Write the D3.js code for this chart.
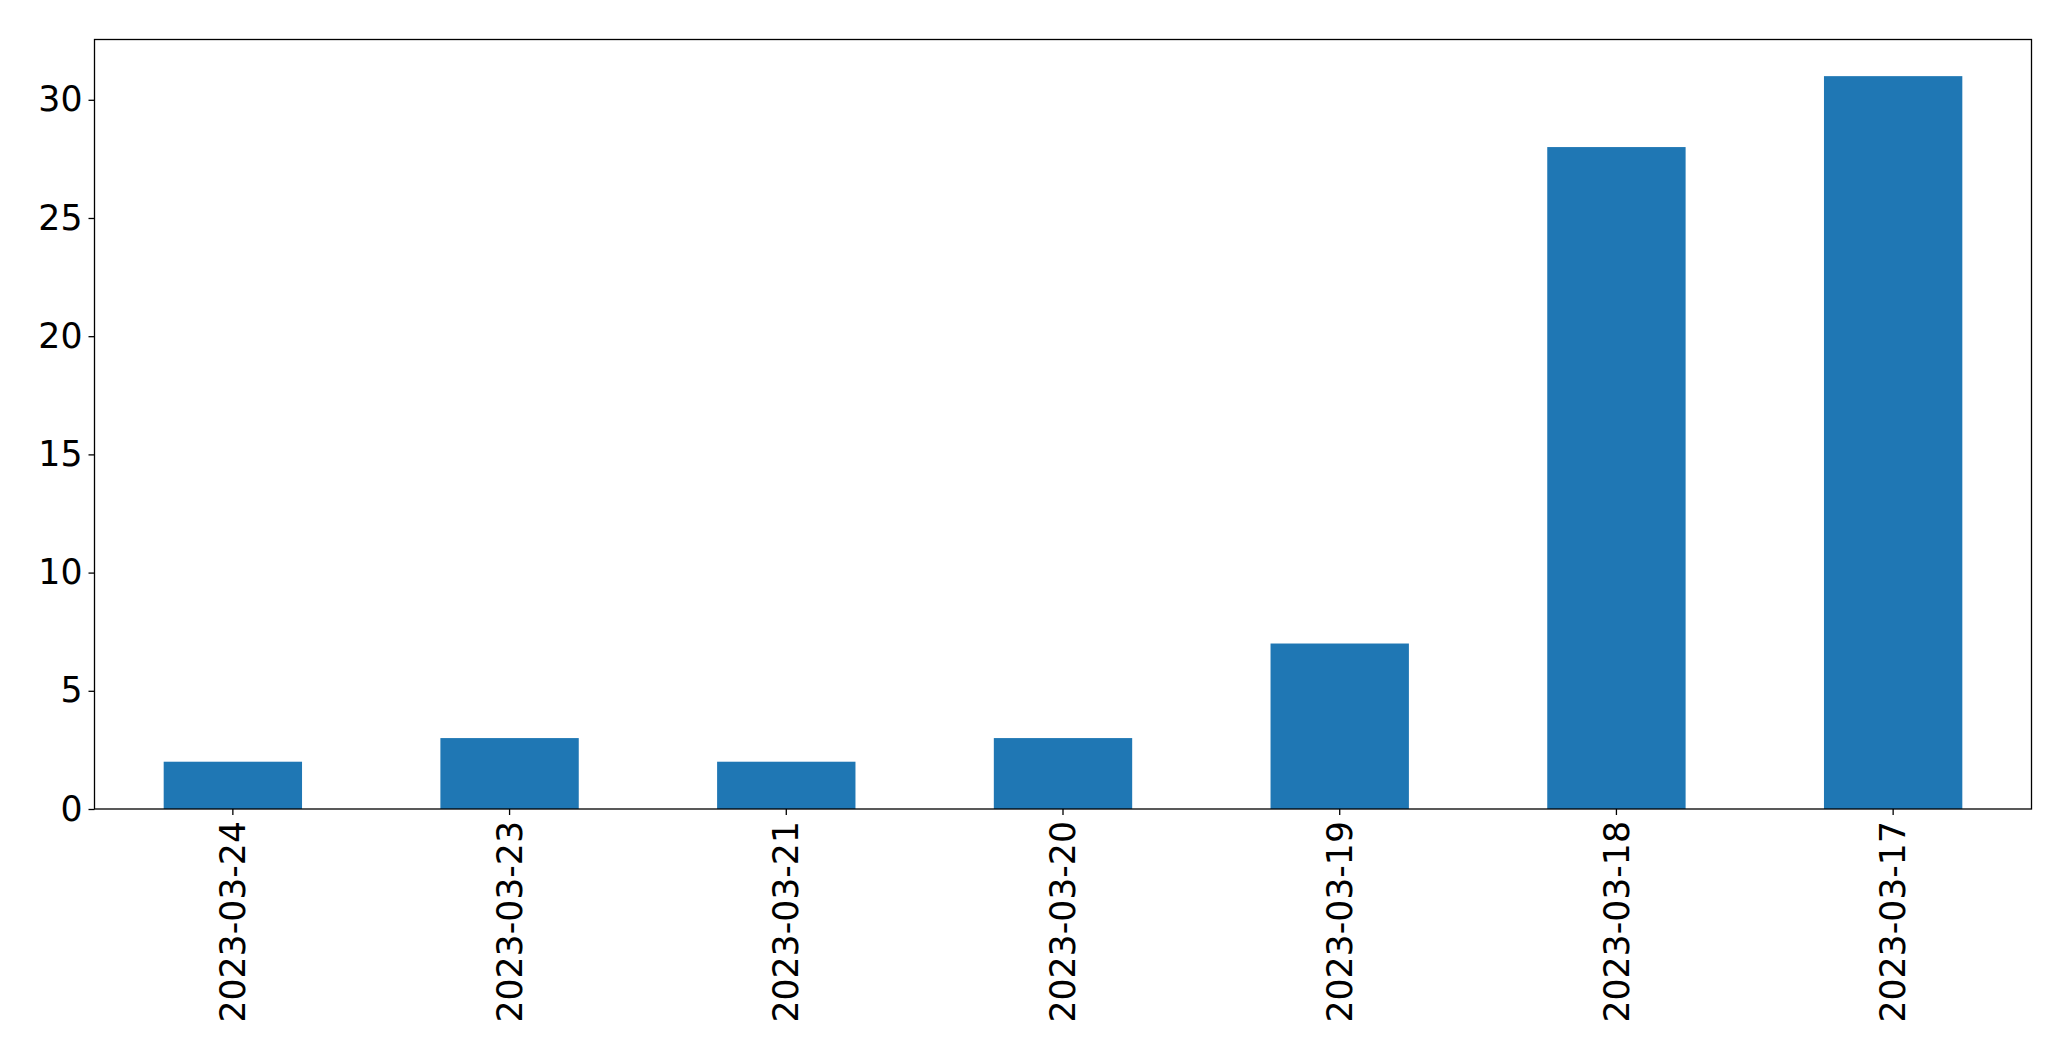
<!DOCTYPE html>
<html>
<head>
<meta charset="utf-8">
<script src="https://cdn.jsdelivr.net/npm/d3@7"></script>
<style>
html,body{margin:0;padding:0;background:#fff;}
svg text{font-family:"DejaVu Sans",sans-serif;}
</style>
</head>
<body>
<svg id="chart" width="2071" height="1061"></svg>
<script>
const categories = ["2023-03-24","2023-03-23","2023-03-21","2023-03-20","2023-03-19","2023-03-18","2023-03-17"];
const values = [2,3,2,3,7,28,31];
const yTicks = [0,5,10,15,20,25,30];

const W = 2071, H = 1061;
const m = {left:94.5, right:2071-2031.5, top:39.5, bottom:1061-809};
const svg = d3.select("#chart");
const iw = W - m.left - m.right, ih = H - m.top - m.bottom;
const g = svg.append("g").attr("transform",`translate(${m.left},${m.top})`);

const x = d3.scaleBand().domain(categories).range([0, iw]).paddingInner(0.5).paddingOuter(0.25);
const y = d3.scaleLinear().domain([0, d3.max(values)*1.05]).range([ih, 0]);

g.selectAll("rect.bar").data(values).enter().append("rect")
  .attr("class","bar")
  .attr("x",(d,i)=>x(categories[i]))
  .attr("width",x.bandwidth())
  .attr("y",d=>y(d))
  .attr("height",d=>ih - y(d))
  .attr("fill","#1f77b4");

const fs = "34.7px";
const yAxis = g.append("g").call(d3.axisLeft(y).tickValues(yTicks).tickSize(6).tickPadding(6).tickFormat(d3.format("d")));
yAxis.select(".domain").remove();
yAxis.selectAll("line").attr("stroke","#000").attr("stroke-width",1.3);
yAxis.selectAll("text").attr("font-size",fs).attr("fill","#000").attr("font-family","DejaVu Sans");

const xAxis = g.append("g").attr("transform",`translate(0,${ih})`).call(d3.axisBottom(x).tickSize(6).tickPadding(6));
xAxis.select(".domain").remove();
xAxis.selectAll("line").attr("stroke","#000").attr("stroke-width",1.3);
xAxis.selectAll("text")
  .attr("font-size",fs).attr("fill","#000").attr("font-family","DejaVu Sans")
  .attr("text-anchor","end")
  .attr("transform","rotate(-90)")
  .attr("x",-12).attr("y",0).attr("dy","0.35em");

g.append("rect").attr("x",0).attr("y",0).attr("width",iw).attr("height",ih)
  .attr("fill","none").attr("stroke","#000").attr("stroke-width",1.3);
</script>
</body>
</html>
